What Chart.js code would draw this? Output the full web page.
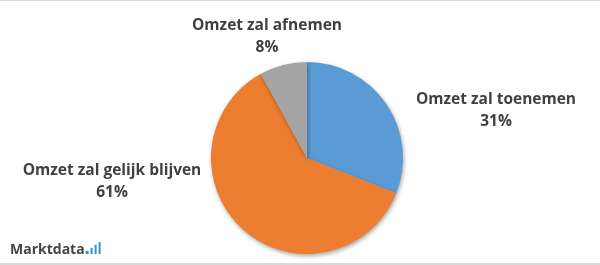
<!DOCTYPE html>
<html lang="nl">
<head>
    <meta charset="UTF-8">
    <title>Omzetverwachting</title>
    <script src="https://cdn.jsdelivr.net/npm/chart.js"></script>
    <style>
        html, body { margin: 0; padding: 0; background: #fff; }
        #wrap { width: 600px; height: 265px; position: relative; }
    </style>
</head>
<body>
    <div id="wrap"><canvas id="pieChart" width="600" height="265"></canvas></div>

    <script>
        // data
        const categories = ['Omzet zal toenemen', 'Omzet zal gelijk blijven', 'Omzet zal afnemen'];
        const shares = [31, 61, 8];
        const sliceColors = ['#5B9BD5', '#ED7D31', '#A5A5A5'];

        // where each label sits (centre of the two lines), relative to the pie centre
        const labelOffsets = [[189, -47], [-195, 24], [-40, -121]];
        const textColor = '#404040';
        const labelFont = 'bold 15.5px "Open Sans", sans-serif';

        const pieShadow = {
            id: 'pieShadow',
            beforeDatasetsDraw(chart) {
                const ctx = chart.ctx;
                ctx.save();
                ctx.shadowColor = 'rgba(0,0,0,0.35)';
                ctx.shadowBlur = 4;
                ctx.shadowOffsetX = 1;
                ctx.shadowOffsetY = 2;
            },
            afterDatasetsDraw(chart) {
                chart.ctx.restore();
            }
        };

        const sliceLabels = {
            id: 'sliceLabels',
            afterDatasetsDraw(chart) {
                const ctx = chart.ctx;
                const arcs = chart.getDatasetMeta(0).data;
                ctx.save();
                ctx.fillStyle = textColor;
                ctx.font = labelFont;
                ctx.textAlign = 'center';
                ctx.textBaseline = 'middle';
                arcs.forEach((arc, i) => {
                    const x = arc.x + labelOffsets[i][0];
                    const y = arc.y + labelOffsets[i][1];
                    ctx.fillText(categories[i], x, y - 11);
                    ctx.fillText(shares[i] + '%', x, y + 11);
                });
                ctx.restore();
            }
        };

        const frameAndLogo = {
            id: 'frameAndLogo',
            afterDraw(chart) {
                const ctx = chart.ctx;
                ctx.save();
                // thin frame lines top and bottom
                ctx.fillStyle = '#d9d9d9';
                ctx.fillRect(0, 0, 600, 1);
                ctx.fillRect(0, 263, 600, 2);
                // logo
                ctx.font = 'bold 14px "Open Sans", sans-serif';
                ctx.fillStyle = '#454545';
                ctx.textBaseline = 'alphabetic';
                ctx.textAlign = 'left';
                ctx.fillText('Marktdata', 10, 254);
                const w = ctx.measureText('Marktdata').width;
                let x = 10 + w + 1;
                ctx.fillStyle = '#3a8fd0';
                ctx.fillRect(x, 251, 3, 3);
                ctx.fillRect(x + 5, 248, 2, 6);
                ctx.fillRect(x + 9, 245, 2, 9);
                ctx.fillRect(x + 13, 242, 2, 12);
                ctx.restore();
            }
        };

        new Chart(document.getElementById('pieChart'), {
            type: 'pie',
            data: {
                labels: categories,
                datasets: [{
                    data: shares,
                    backgroundColor: sliceColors,
                    borderWidth: 0
                }]
            },
            options: {
                responsive: false,
                animation: false,
                layout: { padding: { left: 211, right: 197, top: 62, bottom: 11 } },
                plugins: {
                    legend: { display: false },
                    tooltip: { enabled: false }
                }
            },
            plugins: [pieShadow, sliceLabels, frameAndLogo]
        });
    </script>
</body>
</html>
